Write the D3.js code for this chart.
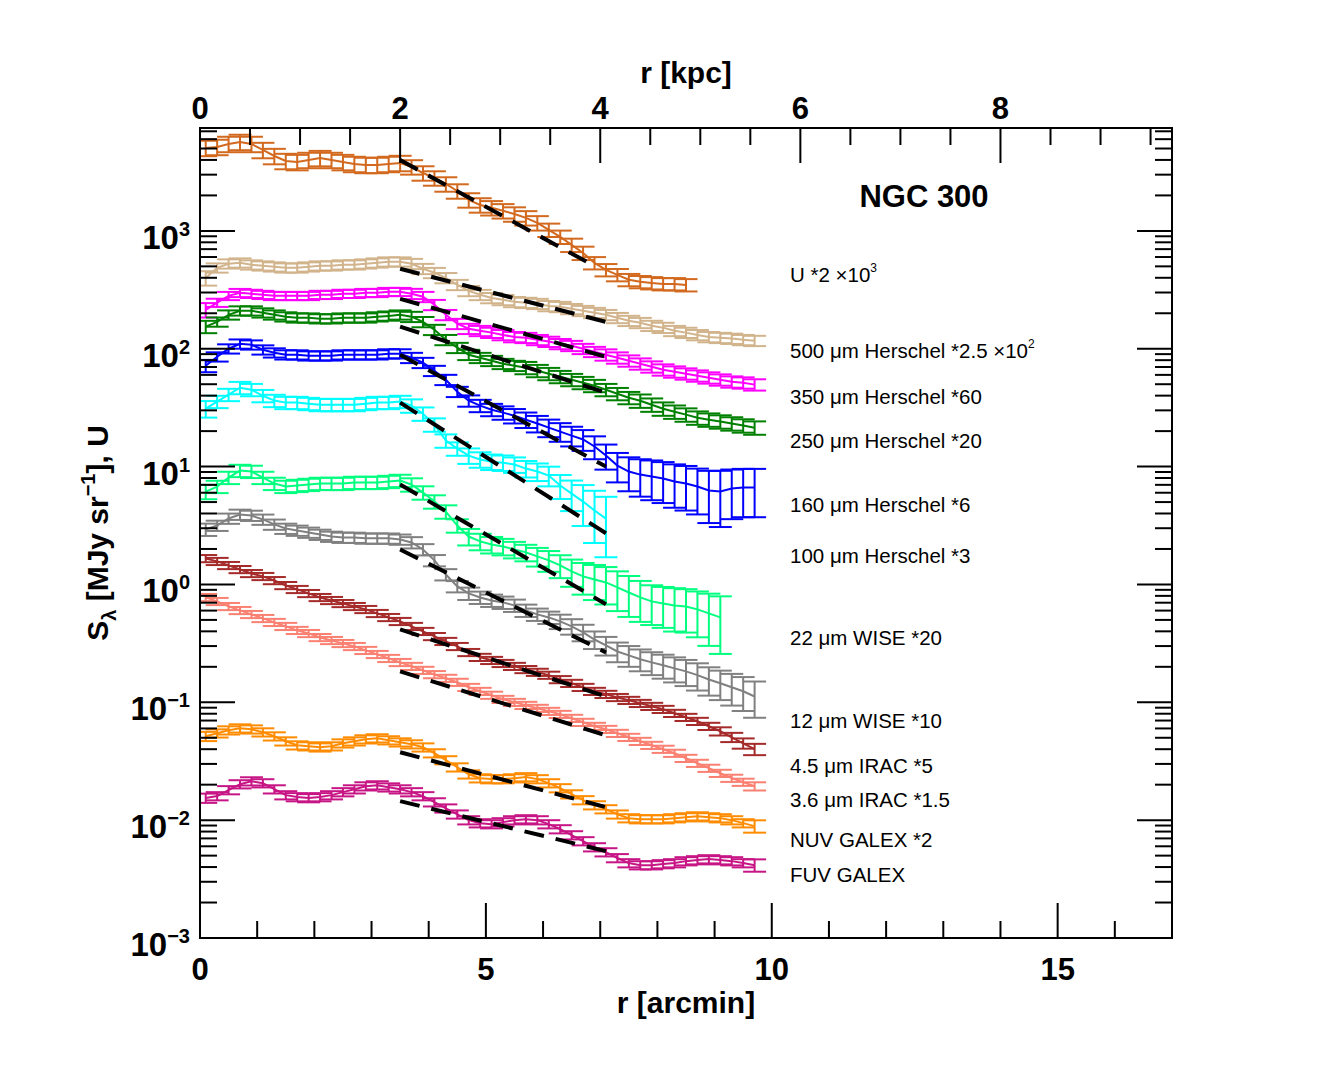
<!DOCTYPE html>
<html><head><meta charset="utf-8">
<script src="https://cdn.jsdelivr.net/npm/d3@7"></script>
<style>
body{margin:0;background:#fff}
text{font-family:"Liberation Sans",Arial,Helvetica,sans-serif;fill:#000}
</style>
</head><body>
<svg id="c" width="1334" height="1067"></svg>
<script>
// ---------------- DATA ----------------
// radial bins (arcmin)
const radius = [0.1,0.3,0.5,0.7,0.9,1.1,1.3,1.5,1.7,1.9,2.1,2.3,2.5,2.7,2.9,3.1,3.3,3.5,3.7,3.9,4.1,4.3,4.5,4.7,4.9,5.1,5.3,5.5,5.7,5.9,6.1,6.3,6.5,6.7,6.9,7.1,7.3,7.5,7.7,7.9,8.1,8.3,8.5,8.7,8.9,9.1,9.3,9.5,9.7];

const valsU = [5060,5160,5470,5690,5470,4860,4320,3920,3840,4000,4150,4000,3840,3700,3630,3630,3700,3770,3490,3100,2810,2500,2180,1830,1660,1570,1480,1390,1290,1170,1020,890,760,650,535,467,424,385,370,362,355,355,348];
const errU = [0.15,0.15,0.15,0.15,0.15,0.15,0.15,0.15,0.15,0.15,0.15,0.15,0.15,0.15,0.15,0.15,0.15,0.15,0.14,0.14,0.14,0.14,0.14,0.14,0.14,0.14,0.14,0.14,0.14,0.14,0.13,0.13,0.13,0.13,0.12,0.12,0.12,0.12,0.12,0.12,0.12,0.12,0.12];

const vals500 = [399,486,526,536,516,506,496,486,486,496,506,506,516,516,526,536,547,547,526,477,441,399,349,310,287,270,260,250,246,241,231,227,218,210,202,194,183,173,166,157,151,142,137,131,126,124,122,119,117];
const err500 = [0.14,0.09,0.09,0.09,0.09,0.09,0.09,0.09,0.09,0.09,0.09,0.09,0.09,0.09,0.09,0.09,0.09,0.09,0.1,0.1,0.1,0.1,0.1,0.1,0.1,0.1,0.1,0.1,0.1,0.1,0.1,0.1,0.1,0.1,0.1,0.1,0.1,0.1,0.1,0.1,0.1,0.1,0.1,0.1,0.1,0.1,0.1,0.1,0.1];

const vals350 = [214,246,281,298,293,287,281,281,281,281,287,287,293,293,298,298,304,304,293,276,236,194,163,148,142,137,131,126,124,119,115,110,106,100,94.3,89,83.9,79.1,74.6,70.4,66.4,63.8,61.4,59.0,56.8,54.6,52.5,51.5,49.6];
const err350 = [0.14,0.08,0.08,0.08,0.08,0.08,0.08,0.08,0.08,0.08,0.08,0.08,0.08,0.08,0.08,0.08,0.08,0.08,0.1,0.1,0.1,0.1,0.1,0.1,0.1,0.1,0.1,0.1,0.1,0.1,0.1,0.1,0.1,0.1,0.1,0.11,0.11,0.11,0.11,0.11,0.11,0.11,0.11,0.11,0.11,0.11,0.11,0.11,0.11];

const vals250 = [154,169,194,210,210,202,194,187,183,183,180,180,183,183,183,187,190,194,187,169,145,119,102,89,83.9,79.1,74.6,71.8,69.0,65.1,61.4,57.9,54.6,51.5,48.6,44.9,41.5,38.4,36.2,33.5,31.0,29.2,27.6,26.0,25.0,24.1,23.2,22.3,21.4];
const err250 = [0.12,0.09,0.09,0.09,0.09,0.09,0.09,0.09,0.09,0.09,0.09,0.09,0.09,0.09,0.09,0.09,0.09,0.09,0.1,0.1,0.1,0.1,0.1,0.1,0.1,0.1,0.1,0.1,0.12,0.12,0.12,0.12,0.12,0.12,0.12,0.12,0.12,0.12,0.13,0.13,0.13,0.13,0.13,0.13,0.13,0.13,0.13,0.13,0.13];

const vals160 = [71.8,85.5,100,110,108,98,92.5,89,89,87.2,87.2,87.2,89,89,89,89,90.8,90.8,83.9,76.1,65.1,54.6,43.2,36.2,32.9,30.4,28.7,27.0,25.0,23.2,21.4,19.8,18.3,17.0,14.8,12.4,10.2,9.08,8.55,8.23,7.91,7.46,7.18,6.77,6.26,6.14,6.51,6.64,6.64];
const err160 = [0.12,0.09,0.09,0.09,0.09,0.09,0.09,0.09,0.09,0.09,0.09,0.09,0.09,0.09,0.09,0.09,0.09,0.09,0.1,0.1,0.1,0.1,0.1,0.11,0.12,0.12,0.13,0.14,0.15,0.16,0.17,0.18,0.19,0.2,0.22,0.24,0.28,0.32,0.35,0.37,0.38,0.4,0.41,0.42,0.47,0.5,0.45,0.44,0.44];

const vals100 = [31.0,35.6,40.8,46.7,44.9,39.9,36.3,34.9,34.9,34.2,33.5,33.5,33.5,33.5,34.2,34.9,34.9,35.6,32.9,28.1,22.7,16.6,14.2,12.4,11.5,11.0,10.8,10.4,9.62,9.08,8.39,6.90,5.90,5.05,4.24,3.62];
const err100 = [0.16,0.12,0.12,0.12,0.12,0.12,0.12,0.12,0.12,0.12,0.12,0.12,0.12,0.12,0.12,0.12,0.12,0.12,0.13,0.13,0.13,0.13,0.13,0.15,0.15,0.15,0.15,0.15,0.16,0.17,0.19,0.23,0.29,0.38,0.47,0.53];

const vals22 = [6.14,6.77,8.07,9.25,9.08,8.07,7.18,6.77,6.90,7.04,7.18,7.18,7.18,7.32,7.32,7.32,7.46,7.61,7.04,6.02,5.05,4.15,3.16,2.55,2.32,2.18,2.10,1.98,1.87,1.73,1.60,1.45,1.29,1.17,1.10,1.04,0.943,0.855,0.776,0.718,0.69,0.664,0.651,0.614,0.568,0.525];
const err22 = [0.14,0.12,0.12,0.12,0.12,0.12,0.12,0.12,0.12,0.12,0.12,0.12,0.12,0.12,0.12,0.12,0.12,0.12,0.13,0.13,0.13,0.13,0.13,0.16,0.16,0.16,0.16,0.16,0.16,0.18,0.2,0.22,0.26,0.3,0.33,0.35,0.37,0.38,0.38,0.37,0.38,0.4,0.4,0.42,0.47,0.51];

const vals12 = [2.93,3.16,3.63,3.92,3.84,3.56,3.23,2.98,2.87,2.76,2.65,2.55,2.50,2.50,2.46,2.46,2.46,2.41,2.27,1.98,1.60,1.215,0.962,0.839,0.776,0.732,0.704,0.664,0.602,0.557,0.525,0.486,0.441,0.392,0.341,0.304,0.27,0.25,0.232,0.218,0.206,0.194,0.183,0.17,0.156,0.145,0.134,0.124,0.112];
const err12 = [0.12,0.1,0.1,0.1,0.1,0.1,0.1,0.1,0.1,0.1,0.1,0.1,0.1,0.1,0.1,0.1,0.1,0.1,0.11,0.11,0.11,0.11,0.11,0.12,0.12,0.12,0.12,0.12,0.12,0.12,0.12,0.14,0.15,0.16,0.17,0.18,0.19,0.2,0.21,0.22,0.23,0.24,0.25,0.26,0.27,0.28,0.3,0.32,0.34];

const vals45 = [1.66,1.57,1.45,1.34,1.24,1.17,1.08,0.98,0.908,0.839,0.776,0.732,0.69,0.651,0.614,0.568,0.525,0.486,0.441,0.40,0.362,0.329,0.298,0.265,0.241,0.227,0.214,0.202,0.19,0.18,0.17,0.156,0.145,0.134,0.124,0.117,0.11,0.104,0.098,0.0925,0.0872,0.0807,0.0746,0.069,0.0626,0.0568,0.0505,0.0449,0.040];
const err45 = [0.07,0.07,0.07,0.07,0.07,0.07,0.07,0.07,0.07,0.07,0.07,0.07,0.07,0.07,0.07,0.07,0.07,0.07,0.07,0.07,0.07,0.07,0.07,0.07,0.07,0.07,0.07,0.07,0.07,0.07,0.07,0.07,0.07,0.07,0.07,0.07,0.07,0.07,0.07,0.07,0.07,0.07,0.07,0.07,0.07,0.08,0.09,0.1,0.11];

const vals36 = [0.776,0.718,0.651,0.602,0.557,0.515,0.477,0.441,0.408,0.384,0.355,0.335,0.316,0.298,0.276,0.255,0.236,0.218,0.202,0.187,0.172,0.16,0.148,0.134,0.124,0.115,0.106,0.1,0.0943,0.089,0.0839,0.0791,0.0732,0.0677,0.0626,0.059,0.0546,0.0505,0.0467,0.0432,0.040,0.037,0.0335,0.0304,0.0276,0.025,0.0227,0.021,0.0194];
const err36 = [0.07,0.07,0.07,0.07,0.07,0.07,0.07,0.07,0.07,0.07,0.07,0.07,0.07,0.07,0.07,0.07,0.07,0.07,0.07,0.07,0.07,0.07,0.07,0.07,0.07,0.07,0.07,0.07,0.07,0.07,0.07,0.07,0.07,0.07,0.07,0.07,0.07,0.07,0.07,0.07,0.07,0.07,0.07,0.07,0.07,0.07,0.07,0.07,0.08];

const valsNUV = [0.0515,0.0546,0.0579,0.0602,0.059,0.0557,0.0515,0.0467,0.0432,0.0424,0.0415,0.0424,0.0449,0.0467,0.0486,0.0496,0.0477,0.0458,0.0441,0.0415,0.037,0.0323,0.0281,0.0245,0.0227,0.0223,0.0223,0.0227,0.0232,0.0223,0.0206,0.0187,0.0166,0.0148,0.0134,0.0124,0.0112,0.0104,0.0102,0.0102,0.0102,0.0104,0.0106,0.0108,0.0106,0.0104,0.01,0.00943,0.0089];
const errNUV = [0.09,0.08,0.08,0.08,0.08,0.08,0.08,0.08,0.08,0.08,0.08,0.08,0.08,0.08,0.08,0.08,0.08,0.08,0.08,0.08,0.08,0.08,0.08,0.08,0.08,0.08,0.08,0.08,0.08,0.08,0.08,0.08,0.08,0.08,0.08,0.08,0.08,0.08,0.08,0.08,0.08,0.08,0.08,0.08,0.08,0.08,0.08,0.08,0.12];

const valsFUV = [0.0154,0.016,0.018,0.0202,0.0214,0.0206,0.0183,0.0163,0.0157,0.0154,0.0157,0.0163,0.0173,0.0183,0.0194,0.0198,0.019,0.0183,0.0173,0.016,0.0142,0.0126,0.0112,0.01,0.00943,0.00925,0.00962,0.01,0.0102,0.01,0.00925,0.00839,0.00746,0.00664,0.0059,0.00535,0.00477,0.00432,0.00415,0.00415,0.00424,0.00432,0.00449,0.00458,0.00467,0.00458,0.00449,0.00432,0.00415];
const errFUV = [0.09,0.08,0.08,0.08,0.08,0.08,0.08,0.08,0.08,0.08,0.08,0.08,0.08,0.08,0.08,0.08,0.08,0.08,0.08,0.08,0.08,0.08,0.08,0.08,0.08,0.08,0.08,0.08,0.08,0.08,0.08,0.08,0.08,0.08,0.08,0.08,0.08,0.08,0.08,0.08,0.08,0.08,0.08,0.08,0.08,0.08,0.08,0.08,0.12];

// series labels, colours
const seriesLabels = ["U *2 ×10^3","500 μm Herschel *2.5 ×10^2","350 μm Herschel *60","250 μm Herschel *20","160 μm Herschel *6","100 μm Herschel *3","22 μm WISE *20","12 μm WISE *10","4.5 μm IRAC *5","3.6 μm IRAC *1.5","NUV GALEX *2","FUV GALEX"];
const seriesColors = ["#D2691E","#D2B48C","#FF00FF","#008000","#0000FF","#00FFFF","#00FF7F","#808080","#A52A2A","#FA8072","#FF8C00","#C71585"];

// exponential-disc fits (dashed): start/end radius (arcmin) and values
const fitR0 = [3.5,3.5,3.5,3.5,3.5,3.5,3.5,3.5,3.5,3.5,3.5,3.5];
const fitR1 = [6.8,7.1,7.1,7.1,7.1,7.1,7.1,7.1,7.1,7.1,7.1,7.1];
const fitV0 = [3990,477,265,154,89,34.9,7.04,1.98,0.415,0.183,0.0377,0.0145];
const fitV1 = [535,169,85.5,42.4,10,2.72,0.68,0.265,0.112,0.0525,0.0129,0.00546];

// axis ticks
const xMajor = [0,5,10,15];
const xMinor = [1,2,3,4,6,7,8,9,11,12,13,14,16];
const kpcMajor = [0,2,4,6,8];
const kpcMinor = [0.5,1,1.5,2.5,3,3.5,4.5,5,5.5,6.5,7,7.5,8.5,9,9.5];
const yExp = [-3,-2,-1,0,1,2,3];
const kpcPerArcmin = 2/3.5;

// ---------------- LAYOUT ----------------
const L=200,R=1172,T=128,B=938;
const labelY = [275,351,397,441,505,556,638,721,766,800,840,875];

const svg = d3.select("#c");
const x = d3.scaleLinear().domain([0,17]).range([L,R]);
const xk = d3.scaleLinear().domain([0,17*kpcPerArcmin]).range([L,R]);
const y = d3.scaleLog().domain([1e-3, Math.pow(10,3.873)]).range([B,T]);

svg.append("defs").append("clipPath").attr("id","clip")
  .append("rect").attr("x",L).attr("y",T).attr("width",R-L).attr("height",B-T);

const series = [
  [valsU,errU],[vals500,err500],[vals350,err350],[vals250,err250],[vals160,err160],[vals100,err100],
  [vals22,err22],[vals12,err12],[vals45,err45],[vals36,err36],[valsNUV,errNUV],[valsFUV,errFUV]
].map((d,i)=>({vals:d[0],err:d[1],color:seriesColors[i],label:seriesLabels[i],
  pts:d[0].map((v,j)=>({r:radius[j],v:v,e:d[1][j]}))}));

const plot = svg.append("g").attr("clip-path","url(#clip)");
const line = d3.line().x(d=>x(d.r)).y(d=>y(d.v));
const cap = 11.5;
series.forEach(s=>{
  const g = plot.append("g").attr("stroke",s.color).attr("stroke-width",2).attr("fill","none");
  s.pts.forEach(p=>{
    const hi = p.v*(1+p.e), lo = Math.max(p.v*(1-p.e), 1e-4);
    const cx = x(p.r);
    g.append("line").attr("x1",cx).attr("x2",cx).attr("y1",y(lo)).attr("y2",y(hi));
    g.append("line").attr("x1",cx-cap).attr("x2",cx+cap).attr("y1",y(lo)).attr("y2",y(lo));
    g.append("line").attr("x1",cx-cap).attr("x2",cx+cap).attr("y1",y(hi)).attr("y2",y(hi));
  });
  g.append("path").attr("d",line(s.pts));
});
// dashed fits
fitR0.forEach((r0,i)=>{
  plot.append("line").attr("x1",x(r0)).attr("y1",y(fitV0[i])).attr("x2",x(fitR1[i])).attr("y2",y(fitV1[i]))
    .attr("stroke","#000").attr("stroke-width",4).attr("stroke-dasharray","20,12");
});

// ---------------- AXES ----------------
const ax = svg.append("g").attr("stroke","#000").attr("stroke-width",2);
const MJ=35, MN=17;
xMajor.forEach(v=>{ax.append("line").attr("x1",x(v)).attr("x2",x(v)).attr("y1",B).attr("y2",B-MJ);});
xMinor.forEach(v=>{ax.append("line").attr("x1",x(v)).attr("x2",x(v)).attr("y1",B).attr("y2",B-MN);});
kpcMajor.forEach(v=>{ax.append("line").attr("x1",xk(v)).attr("x2",xk(v)).attr("y1",T).attr("y2",T+MJ);});
kpcMinor.forEach(v=>{ax.append("line").attr("x1",xk(v)).attr("x2",xk(v)).attr("y1",T).attr("y2",T+MN);});
const yTop = y.domain()[1];
yExp.forEach(e=>{
  const v = Math.pow(10,e);
  ax.append("line").attr("x1",L).attr("x2",L+MJ).attr("y1",y(v)).attr("y2",y(v));
  ax.append("line").attr("x1",R).attr("x2",R-MJ).attr("y1",y(v)).attr("y2",y(v));
  for(let m=2;m<=9;m++){
    const mv = m*v; if(mv>yTop) break;
    ax.append("line").attr("x1",L).attr("x2",L+MN).attr("y1",y(mv)).attr("y2",y(mv));
    ax.append("line").attr("x1",R).attr("x2",R-MN).attr("y1",y(mv)).attr("y2",y(mv));
  }
});
svg.append("rect").attr("x",L).attr("y",T).attr("width",R-L).attr("height",B-T)
  .attr("fill","none").attr("stroke","#000").attr("stroke-width",2);

// tick labels
const tl = svg.append("g").attr("font-weight","bold").attr("font-size",31);
xMajor.forEach(v=>tl.append("text").attr("x",x(v)).attr("y",B+42).attr("text-anchor","middle").text(v));
kpcMajor.forEach(v=>tl.append("text").attr("x",xk(v)).attr("y",T-9).attr("text-anchor","middle").text(v));
yExp.forEach(e=>{
  const t = tl.append("text").attr("x",190).attr("y",y(Math.pow(10,e))+18).attr("text-anchor","end").attr("font-size",33);
  t.append("tspan").text("10");
  t.append("tspan").attr("font-size",20).attr("dy",-13).text(e<0?"−"+(-e):String(e));
});
// axis titles
svg.append("text").attr("x",(L+R)/2).attr("y",83).attr("text-anchor","middle").attr("font-weight","bold").attr("font-size",30).text("r [kpc]");
svg.append("text").attr("x",(L+R)/2).attr("y",1013).attr("text-anchor","middle").attr("font-weight","bold").attr("font-size",30).text("r [arcmin]");
const yt = svg.append("text").attr("transform",`translate(108,${(T+B)/2}) rotate(-90)`).attr("text-anchor","middle")
  .attr("font-weight","bold").attr("font-size",30);
yt.append("tspan").text("S");
yt.append("tspan").attr("font-size",20).attr("dy",8).text("λ");
yt.append("tspan").attr("dy",-8).text(" [MJy sr");
yt.append("tspan").attr("font-size",20).attr("dy",-13).text("−1");
yt.append("tspan").attr("dy",13).text("], U");

// title
svg.append("text").attr("x",924).attr("y",207).attr("text-anchor","middle").attr("font-weight","bold").attr("font-size",31).text("NGC 300");

// series labels
series.forEach((s,i)=>{
  const parts = s.label.split("^");
  const t = svg.append("text").attr("x",790).attr("y",labelY[i]+7).attr("font-size",20.5);
  t.append("tspan").text(parts[0]);
  if(parts[1]) t.append("tspan").attr("font-size",12).attr("dy",-10).text(parts[1]);
});
</script>
</body></html>
